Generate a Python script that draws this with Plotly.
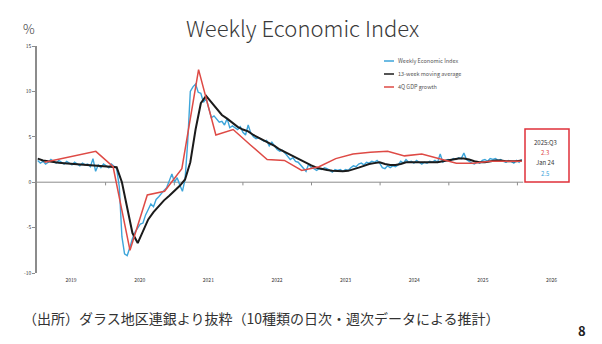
import pandas as pd
import plotly.graph_objects as go

# Weekly Economic Index, sampled every other week (percent)
wei_dates = pd.date_range("2019-01-05", "2026-01-24", freq="14D")
wei_values = [
    2.4, 2.1, 2.3, 2.0, 2.2, 2.5, 2.3, 2.1, 2.4, 2.2,
    2.0, 2.3, 2.1, 1.9, 2.2, 2.0, 1.8, 2.1, 1.9, 2.0,
    1.7, 2.6, 1.2, 1.9, 1.6, 2.0, 1.8, 1.6, 2.0, 1.8,
    1.5, -0.5, -6.0, -7.9, -8.1, -7.2, -6.2, -5.5, -5.0, -4.6,
    -4.5, -3.6, -3.0, -2.4, -2.7, -1.9, -1.6, -1.2, -0.9, -0.6,
    0.2, 0.9, 0.0, 0.5, -0.3, -1.0, 0.3, 4.4, 10.0, 10.5,
    10.8, 9.9, 9.8, 8.8, 9.2, 8.0, 7.1, 7.3, 6.9, 6.6,
    6.7, 6.3, 7.0, 6.0, 6.2, 6.0, 5.8, 6.1, 5.5, 5.2,
    6.3, 5.4, 5.0, 4.8, 4.9, 4.7, 4.5, 4.6, 4.0, 4.4,
    4.0, 3.6, 3.4, 3.5, 3.2, 2.8, 2.5, 2.7, 2.3, 2.2,
    1.9, 1.6, 1.2, 2.0, 1.6, 1.5, 1.3, 1.5, 1.4, 1.6,
    1.5, 1.3, 1.1, 1.4, 1.3, 1.4, 1.2, 1.4, 1.3, 1.6,
    1.8, 1.7, 2.0, 2.1, 1.9, 2.2, 2.1, 2.3, 2.2, 2.4,
    2.1, 1.6, 1.5, 1.8, 1.6, 1.8, 1.7, 1.9, 2.3, 2.1,
    2.5, 2.2, 2.3, 2.1, 2.4, 2.2, 2.0, 2.2, 2.1, 2.3,
    2.2, 2.4, 2.2, 3.1, 2.2, 2.4, 2.5, 2.4, 2.6, 2.5,
    2.7, 2.6, 3.2, 2.5, 2.3, 2.1, 2.0, 2.2, 2.1, 2.4,
    2.5, 2.3, 2.6, 2.5, 2.6, 2.4, 2.5, 2.3, 2.2, 2.4,
    2.3, 2.1, 2.4, 2.2, 2.5,
]

# 13-week moving average, sampled every four weeks (percent)
ma_dates = pd.date_range("2019-01-05", "2026-01-24", freq="28D")
ma_values = [
    2.6, 2.4, 2.3, 2.2, 2.15, 2.1, 2.05, 2.0, 1.95, 1.9,
    1.85, 1.8, 1.75, 1.7, 1.7, 1.65, 0.0, -3.0, -5.6, -6.7,
    -5.3, -4.1, -3.3, -2.6, -2.0, -1.5, -1.0, -0.4, 0.3, 2.2,
    5.8, 8.7, 9.5, 8.8, 8.0, 7.4, 7.0, 6.5, 6.1, 5.8,
    5.6, 5.2, 4.9, 4.6, 4.3, 4.0, 3.6, 3.3, 3.0, 2.7,
    2.4, 2.1, 1.85, 1.6, 1.45, 1.35, 1.25, 1.2, 1.2, 1.25,
    1.4, 1.6, 1.8, 2.0, 2.1, 2.2, 2.0, 1.9, 1.9, 2.0,
    2.2, 2.2, 2.2, 2.2, 2.2, 2.2, 2.2, 2.3, 2.4, 2.5,
    2.6, 2.6, 2.5, 2.3, 2.2, 2.2, 2.3, 2.4, 2.4, 2.3,
    2.3, 2.3, 2.4,
]

# Four-quarter GDP growth, one point per quarter plus the latest week (percent)
gdp_dates = [
    "2019-02-10", "2019-05-10", "2019-08-10", "2019-11-10",
    "2020-02-10", "2020-05-10", "2020-08-10", "2020-11-10",
    "2021-02-10", "2021-05-10", "2021-08-10", "2021-11-10",
    "2022-02-10", "2022-05-10", "2022-08-10", "2022-11-10",
    "2023-02-10", "2023-05-10", "2023-08-10", "2023-11-10",
    "2024-02-10", "2024-05-10", "2024-08-10", "2024-11-10",
    "2025-02-10", "2025-05-10", "2025-08-10", "2026-01-24",
]
gdp_values = [
    2.2, 2.6, 3.0, 3.4,
    1.7, -7.5, -1.4, -1.0,
    1.5, 12.4, 5.2, 5.8,
    4.1, 2.5, 2.4, 1.3,
    1.7, 2.6, 3.1, 3.3,
    3.4, 2.9, 3.1, 2.6,
    2.1, 2.1, 2.3, 2.3,
]

years = [2019, 2020, 2021, 2022, 2023, 2024, 2025, 2026]
year_labels = [str(y) for y in years]
y_ticks = [-10, -5, 0, 5, 10, 15]
y_tick_labels = ["-10", "-5", "0", "5", "10", "15"]

latest_quarter = "2025:Q3"
latest_gdp = "2.3"
latest_week = "Jan 24"
latest_wei = "2.5"

BLUE = "#3DA5DA"
BLACK = "#1B1B1B"
RED = "#DE4A45"
AXIS = "#8C8C8C"
TEXT = "#333333"
FONT = "Noto Sans CJK JP"

W, H = 602, 344
L, R, T, B = 37, 16, 46, 71
PW, PH = W - L - R, H - T - B


def px(x):
    return (x - L) / PW


def py(y):
    return (H - B - y) / PH


fig = go.Figure()
fig.add_trace(go.Scatter(x=wei_dates, y=wei_values, mode="lines",
                         line=dict(color=BLUE, width=1.4),
                         name="Weekly Economic Index"))
fig.add_trace(go.Scatter(x=ma_dates, y=ma_values, mode="lines",
                         line=dict(color=BLACK, width=2),
                         name="13-week moving average"))
fig.add_trace(go.Scatter(x=gdp_dates, y=gdp_values, mode="lines",
                         line=dict(color=RED, width=1.5),
                         name="4Q GDP growth"))

shapes = [
    # zero line across the data span
    dict(type="line", xref="x", yref="y", x0="2019-01-01", x1="2026-02-01",
         y0=0, y1=0, line=dict(color=AXIS, width=1), layer="below"),
]
# small year-boundary ticks hanging off the zero line
for yr in years[1:]:
    shapes.append(dict(type="line", xref="x", yref="y",
                       x0=f"{yr}-01-01", x1=f"{yr}-01-01", y0=0, y1=-0.35,
                       line=dict(color=AXIS, width=1), layer="below"))

# hand-drawn legend keys
legend_items = [("Weekly Economic Index", BLUE, 61),
                ("13-week moving average", BLACK, 74),
                ("4Q GDP growth", RED, 87)]
annotations = []
for label, color, yy in legend_items:
    shapes.append(dict(type="line", xref="paper", yref="paper",
                       x0=px(384), x1=px(394), y0=py(yy), y1=py(yy),
                       line=dict(color=color, width=1.5)))
    annotations.append(dict(text=label, xref="paper", yref="paper",
                            x=px(396), y=py(yy), xanchor="left", yanchor="middle",
                            showarrow=False, font=dict(size=5.5, color="#555555", family=FONT)))

# latest-readings box
shapes.append(dict(type="rect", xref="paper", yref="paper",
                   x0=px(525), x1=px(569), y0=py(182), y1=py(129),
                   line=dict(color="#E0303A", width=1.5), fillcolor="white"))
for txt, color, yy in [(latest_quarter, TEXT, 142), (latest_gdp, RED, 152),
                       (latest_week, TEXT, 162), (latest_wei, BLUE, 173)]:
    annotations.append(dict(text=txt, xref="paper", yref="paper",
                            x=px(545), y=py(yy), xanchor="center", yanchor="middle",
                            showarrow=False, font=dict(size=6, color=color, family=FONT)))

annotations += [
    dict(text="Weekly Economic Index", xref="paper", yref="paper",
         x=px(302), y=py(27), xanchor="center", yanchor="middle", showarrow=False,
         font=dict(size=22, color="#3a3a3a", family=FONT, weight=300)),
    dict(text="%", xref="paper", yref="paper", x=px(29), y=py(28),
         xanchor="center", yanchor="middle", showarrow=False,
         font=dict(size=13, color="#3a3a3a", family=FONT, weight=300)),
    dict(text="（出所）ダラス地区連銀より抜粋（10種類の日次・週次データによる推計）",
         xref="paper", yref="paper", x=px(21), y=py(318),
         xanchor="left", yanchor="middle", showarrow=False,
         font=dict(size=14, color=TEXT, family=FONT)),
    dict(text="<b>8</b>", xref="paper", yref="paper", x=px(582), y=py(330),
         xanchor="center", yanchor="middle", showarrow=False,
         font=dict(size=13, color="#222222", family=FONT)),
]

fig.update_layout(
    width=W, height=H,
    margin=dict(l=L, r=R, t=T, b=B),
    paper_bgcolor="white", plot_bgcolor="white",
    showlegend=False,
    shapes=shapes,
    annotations=annotations,
    font=dict(family=FONT, color=TEXT),
)
fig.update_xaxes(
    type="date", range=["2019-01-01", "2027-01-01"],
    tickvals=[f"{y}-07-01" for y in years], ticktext=year_labels,
    ticks="", showline=False, showgrid=False, zeroline=False,
    tickfont=dict(size=5, color=TEXT), ticklabelstandoff=3,
)
fig.update_yaxes(
    range=[-10, 15], tickvals=y_ticks, ticktext=y_tick_labels,
    showline=True, linecolor=AXIS, linewidth=1.5,
    ticks="outside", ticklen=3, tickcolor=AXIS, tickwidth=1,
    showgrid=False, zeroline=False,
    tickfont=dict(size=5, color=TEXT),
)

fig.write_html("out.html")
